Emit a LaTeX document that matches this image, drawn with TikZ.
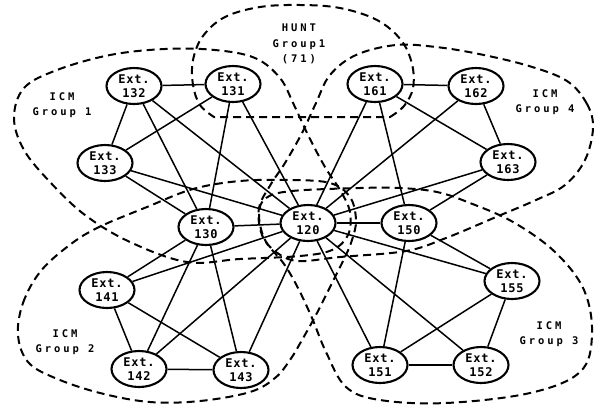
\documentclass[tikz,border=0pt]{standalone}
\usepackage{fontspec}
\usetikzlibrary{shapes.geometric}
\newfontfamily\nodefont{DejaVu Sans Mono}[LetterSpace=6]
\newfontfamily\labfont{DejaVu Sans Mono}[LetterSpace=28]
\begin{document}
\begin{tikzpicture}[x=1pt,y=-1pt,
  ext/.style={ellipse, draw, line width=2.1pt, fill=white, minimum width=55pt, minimum height=36pt,
    inner sep=0pt, align=center, font=\nodefont\bfseries\fontsize{12}{13.5}\selectfont},
  edge/.style={line width=1.5pt},
  grp/.style={dash pattern=on 8pt off 5pt, line width=2pt},
  lab/.style={align=center, font=\labfont\bfseries\fontsize{10.5}{15.5}\selectfont}]
\useasboundingbox (0,0) rectangle (596,408);

% group outlines
\draw[grp] plot[smooth cycle, tension=0.6] coordinates {(14,118) (24,88) (57,70) (110,55) (165,49) (215,50) (255,58) (280,78) (294,105) (309,137) (325,167) (340,190) (350,212) (348,235) (332,250) (300,256) (240,259) (187,262) (130,242) (85,215) (50,182) (24,150)};
\draw[grp] plot[smooth cycle, tension=0.6] coordinates {(593,128) (587,104) (567,81) (529,66) (479,54) (436,47) (396,45) (356,55) (330,75) (316,103) (302,133) (285,163) (271,184) (259,208) (262,235) (276,252) (298,261) (340,257) (406,251) (446,238) (496,217) (536,200) (565,185) (585,160)};
\draw[grp] plot[smooth cycle, tension=0.6] coordinates {(18,335) (23,303) (40,272) (67,247) (97,228) (147,207) (193,189) (240,181) (290,180) (330,183) (350,197) (356,220) (352,240) (345,257) (332,283) (317,313) (302,340) (290,360) (275,378) (250,392) (200,401) (150,402) (100,393) (55,378) (28,362)};
\draw[grp] plot[smooth cycle, tension=0.6] coordinates {(259,214) (266,198) (292,191) (360,188) (400,188) (437,192) (470,203) (513,222) (555,252) (584,290) (592,335) (580,372) (530,393) (446,403) (380,400) (346,387) (326,352) (312,318) (298,288) (284,264) (265,240)};
\draw[grp] plot[smooth, tension=0.6] coordinates {(390,117) (404,106) (413,88) (412,64) (401,40) (377,20) (340,8) (300,5) (260,7) (225,17) (203,36) (193,60) (193,85) (200,105) (214,117)} -- cycle;

% labels
\node[lab] (hunt) at (299,44) {HUNT\\Group1\\(71)};
\node[lab] (g1) at (62,105) {ICM\\Group 1};
\node[lab] (g4) at (545,102) {ICM\\Group 4};
\node[lab] (g2) at (65,342) {ICM\\Group 2};
\node[lab] (g3) at (549,334) {ICM\\Group 3};

% nodes
\node[ext] (n132) at (134,86) {Ext.\\132};
\node[ext] (n131) at (233,84) {Ext.\\131};
\node[ext] (n161) at (375,84) {Ext.\\161};
\node[ext] (n162) at (476,86) {Ext.\\162};
\node[ext] (n133) at (105,163) {Ext.\\133};
\node[ext] (n163) at (508,162) {Ext.\\163};
\node[ext] (n130) at (206,227) {Ext.\\130};
\node[ext] (n120) at (308,223) {Ext.\\120};
\node[ext] (n150) at (409,223) {Ext.\\150};
\node[ext] (n141) at (107,290) {Ext.\\141};
\node[ext] (n155) at (512,281) {Ext.\\155};
\node[ext] (n142) at (139,369) {Ext.\\142};
\node[ext] (n143) at (241,370) {Ext.\\143};
\node[ext] (n151) at (380,365) {Ext.\\151};
\node[ext] (n152) at (481,365) {Ext.\\152};

% edges
\foreach \a/\b in {131/132,132/133,131/133,132/130,132/120,131/130,131/120,133/130,133/120,
  161/162,161/163,162/163,161/150,161/120,162/120,163/120,163/150,
  141/142,141/143,142/143,141/130,141/120,142/130,142/120,143/130,143/120,
  151/152,151/155,152/155,151/150,151/120,152/120,155/150,155/120,
  130/120,120/150}
  \draw[edge] (n\a) -- (n\b);
\end{tikzpicture}
\end{document}
